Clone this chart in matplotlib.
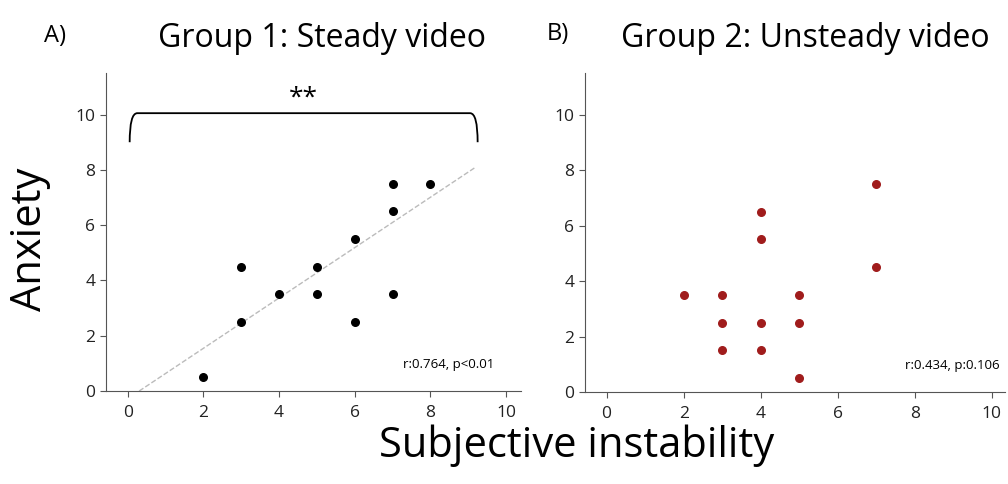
import matplotlib.pyplot as plt
from matplotlib.path import Path
from matplotlib.patches import PathPatch

plt.rcParams['font.family'] = ['Open Sans', 'DejaVu Sans']

# Group 1: steady video
steady_x = [2, 3, 3, 4, 5, 5, 6, 6, 7, 7, 7, 8]
steady_y = [0.5, 2.5, 4.5, 3.5, 3.5, 4.5, 2.5, 5.5, 3.5, 6.5, 7.5, 7.5]

# Group 2: unsteady video
unsteady_x = [2, 3, 3, 3, 4, 4, 4, 4, 5, 5, 5, 7, 7]
unsteady_y = [3.5, 3.5, 2.5, 1.5, 6.5, 5.5, 2.5, 1.5, 3.5, 2.5, 0.5, 7.5, 4.5]

# trend line endpoints
trend_x = [0.3, 9.2]
trend_y = [0.0, 8.1]

ticks = [0, 2, 4, 6, 8, 10]

fig = plt.figure(figsize=(10.08, 4.84), dpi=100)
ax1 = fig.add_axes([0.105, 0.192, 0.412, 0.657])
ax2 = fig.add_axes([0.580, 0.190, 0.417, 0.659])

for ax in (ax1, ax2):
    ax.spines['top'].set_visible(False)
    ax.spines['right'].set_visible(False)
    ax.spines['left'].set_color('#555555')
    ax.spines['bottom'].set_color('#555555')
    ax.set_xticks(ticks)
    ax.set_yticks(ticks)
    ax.tick_params(labelsize=12.5, length=4, color='#555555', labelcolor='#222222')
    ax.tick_params(axis='x', pad=6)
    ax.set_ylim(0, 11.5)

ax1.set_xlim(-0.58, 10.4)
ax2.set_xlim(-0.57, 10.34)

# panel A
ax1.plot(trend_x, trend_y, ls='--', color='#bbbbbb', lw=1, zorder=1)
ax1.scatter(steady_x, steady_y, s=30, color='black', zorder=3)
ax1.text(9.7, 0.95, 'r:0.764, p<0.01', fontsize=9.5, ha='right', va='center')

# significance bracket with rounded corners
verts = [(0.05, 9.0), (0.05, 10.05), (0.25, 10.05),
         (9.05, 10.05), (9.25, 10.05), (9.25, 9.0)]
codes = [Path.MOVETO, Path.CURVE3, Path.CURVE3,
         Path.LINETO, Path.CURVE3, Path.CURVE3]
ax1.add_patch(PathPatch(Path(verts, codes), fill=False, lw=1.3, color='black',
                        clip_on=False))
ax1.text(4.65, 10.15, '**', fontsize=19, ha='center', va='bottom')

ax1.set_title('Group 1: Steady video', fontsize=23, pad=19, x=0.52)
fig.text(0.055, 0.925, 'A)', fontsize=17, ha='center', va='center')

# panel B
ax2.scatter(unsteady_x, unsteady_y, s=30, color='#a01c1c', zorder=3)
ax2.text(10.2, 0.95, 'r:0.434, p:0.106', fontsize=9.5, ha='right', va='center')
ax2.set_title('Group 2: Unsteady video', fontsize=23, pad=19, x=0.524)
fig.text(0.553, 0.93, 'B)', fontsize=17, ha='center', va='center')

fig.text(0.03, 0.505, 'Anxiety', fontsize=30, rotation=90, ha='center', va='center')
fig.text(0.572, 0.08, 'Subjective instability', fontsize=30, ha='center', va='center')

fig.savefig('out.png', dpi=100)
